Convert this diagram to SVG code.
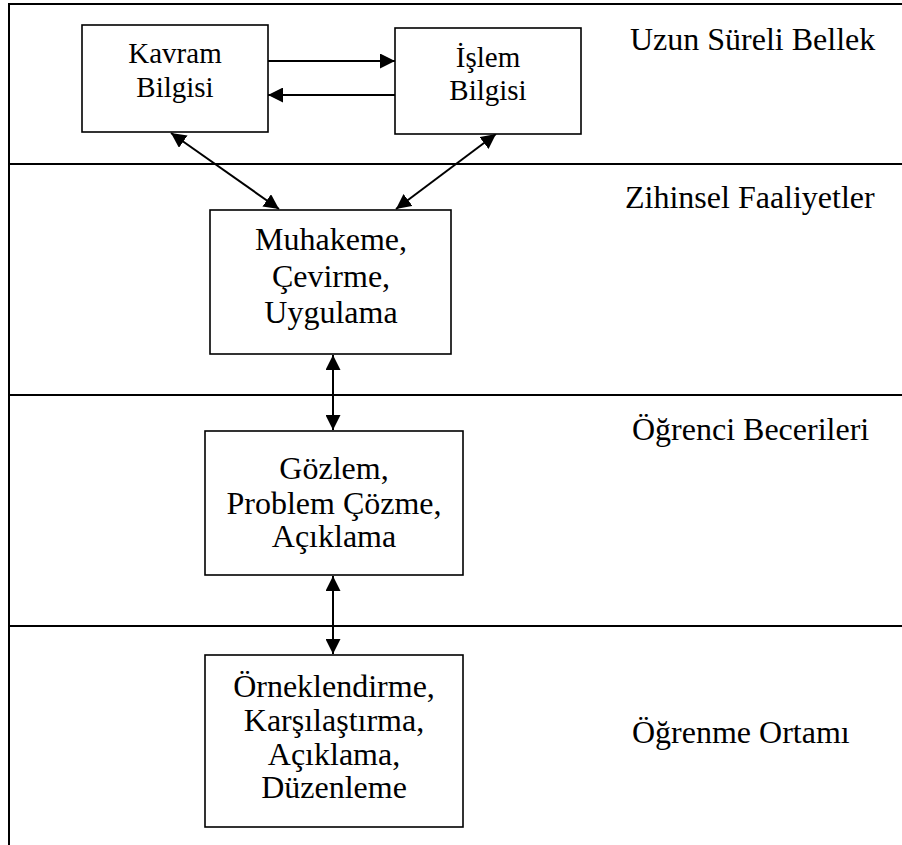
<svg xmlns="http://www.w3.org/2000/svg" width="902" height="845" viewBox="0 0 902 845">
<style>
  .frame { stroke: #000; stroke-width: 2; fill: none; }
  .box { fill: #fff; stroke: #000; stroke-width: 1.6; }
  .t { font-family: "Liberation Serif", "Times New Roman", serif; fill: #000; }
  .bt { font-size: 32px; text-anchor: middle; }
  .st { font-size: 29px; text-anchor: middle; }
  .lab { font-size: 32px; }
  .conn { stroke: #000; stroke-width: 2; fill: none; marker-start: url(#ah); marker-end: url(#ah); }
  .one { stroke: #000; stroke-width: 2; fill: none; marker-end: url(#ah); }
</style>
<defs>
  <marker id="ah" viewBox="0 0 15 15" refX="15" refY="7.5" markerWidth="15" markerHeight="15" markerUnits="userSpaceOnUse" orient="auto-start-reverse">
    <path d="M0,0 L15,7.5 L0,15 Z" fill="#000"/>
  </marker>
</defs>
<rect x="0" y="0" width="902" height="845" fill="#fff"/>
<g id="frame">
  <line class="frame" x1="9" y1="4" x2="902" y2="4"/>
  <line class="frame" x1="9" y1="3" x2="9" y2="845"/>
  <line class="frame" x1="9" y1="164" x2="902" y2="164"/>
  <line class="frame" x1="9" y1="395" x2="902" y2="395"/>
  <line class="frame" x1="9" y1="626" x2="902" y2="626"/>
</g>
<g id="labels">
  <text class="t lab" x="630" y="50">Uzun Süreli Bellek</text>
  <text class="t lab" x="625" y="208">Zihinsel Faaliyetler</text>
  <text class="t lab" x="632" y="440">Öğrenci Becerileri</text>
  <text class="t lab" x="632" y="743">Öğrenme Ortamı</text>
</g>
<g id="connectors">
  <line class="one" x1="268" y1="61" x2="395" y2="61"/>
  <line class="one" x1="395" y1="95" x2="268" y2="95"/>
  <line class="conn" x1="171" y1="133" x2="279" y2="209"/>
  <line class="conn" x1="496" y1="134" x2="396" y2="209"/>
  <line class="conn" x1="333" y1="355" x2="333" y2="430"/>
  <line class="conn" x1="333" y1="576" x2="333" y2="654"/>
</g>
<g id="kavram">
  <rect class="box" x="82" y="25" width="186" height="107"/>
  <text class="t st" x="175" y="63">Kavram</text>
  <text class="t st" x="175" y="97">Bilgisi</text>
</g>
<g id="islem">
  <rect class="box" x="395" y="28" width="186" height="106"/>
  <text class="t st" x="488" y="67">İşlem</text>
  <text class="t st" x="488" y="100">Bilgisi</text>
</g>
<g id="zihinsel">
  <rect class="box" x="210" y="210" width="241" height="144"/>
  <text class="t bt" x="331" y="250">Muhakeme,</text>
  <text class="t bt" x="331" y="287">Çevirme,</text>
  <text class="t bt" x="331" y="323">Uygulama</text>
</g>
<g id="beceri">
  <rect class="box" x="205" y="431" width="258" height="144"/>
  <text class="t bt" x="334" y="479">Gözlem,</text>
  <text class="t bt" x="334" y="514">Problem Çözme,</text>
  <text class="t bt" x="334" y="547">Açıklama</text>
</g>
<g id="ortam">
  <rect class="box" x="205" y="655" width="258" height="172"/>
  <text class="t bt" x="334" y="697">Örneklendirme,</text>
  <text class="t bt" x="334" y="731">Karşılaştırma,</text>
  <text class="t bt" x="334" y="765">Açıklama,</text>
  <text class="t bt" x="334" y="798">Düzenleme</text>
</g>
</svg>
